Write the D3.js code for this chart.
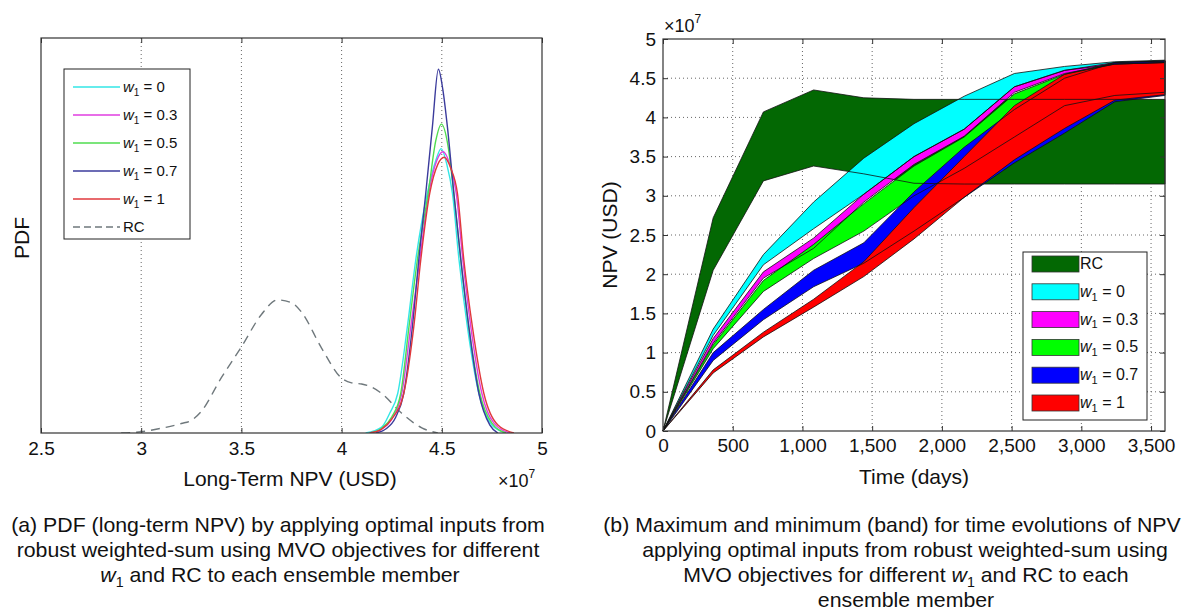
<!DOCTYPE html>
<html>
<head>
<meta charset="utf-8">
<script src="https://cdn.jsdelivr.net/npm/d3@7"></script>
<style>
    body { margin: 0; background: #fff; }
    text { font-family: "Liberation Sans", Arial, Helvetica, sans-serif; fill: #111; }
</style>
</head>
<body>
<svg id="fig" width="1182" height="615"></svg>
<script>
// ---------- data, left panel: PDF of long-term NPV (x in 1e7 USD, pdf relative to axis height) ----------
const npvTicks = [2.5, 3, 3.5, 4, 4.5, 5];
const pdfSeriesNames = ["0", "0.3", "0.5", "0.7", "1"];
const pdfRC = [[2.9, 0], [3.0, 0.003], [3.1, 0.012], [3.2, 0.024], [3.25, 0.032], [3.3, 0.055], [3.4, 0.14],
    [3.5, 0.218], [3.6, 0.30], [3.68, 0.337], [3.75, 0.33], [3.8, 0.306], [3.9, 0.215], [4.0, 0.139],
    [4.05, 0.127], [4.1, 0.124], [4.15, 0.116], [4.2, 0.10], [4.3, 0.05], [4.4, 0.013], [4.48, 0]];
const pdfW0 = [[4.12, 0], [4.2, 0.015], [4.24, 0.05], [4.28, 0.10], [4.328, 0.268], [4.37, 0.438], [4.428, 0.607],
    [4.47, 0.69], [4.497, 0.72], [4.525, 0.68], [4.553, 0.607], [4.586, 0.438], [4.628, 0.268], [4.685, 0.10],
    [4.75, 0.02], [4.82, 0]];
const pdfW03 = [[4.14, 0], [4.2, 0.01], [4.25, 0.035], [4.30, 0.10], [4.345, 0.268], [4.39, 0.438], [4.435, 0.607],
    [4.475, 0.69], [4.506, 0.712], [4.54, 0.68], [4.572, 0.607], [4.605, 0.438], [4.645, 0.268], [4.70, 0.10],
    [4.76, 0.025], [4.84, 0]];
const pdfW05 = [[4.14, 0], [4.2, 0.012], [4.25, 0.04], [4.295, 0.10], [4.336, 0.268], [4.378, 0.438], [4.432, 0.607],
    [4.47, 0.74], [4.498, 0.782], [4.53, 0.73], [4.56, 0.607], [4.595, 0.438], [4.635, 0.268], [4.69, 0.10],
    [4.75, 0.025], [4.82, 0]];
const pdfW07 = [[4.17, 0], [4.22, 0.01], [4.27, 0.04], [4.31, 0.10], [4.353, 0.268], [4.385, 0.438], [4.42, 0.607],
    [4.453, 0.775], [4.483, 0.921], [4.505, 0.87], [4.528, 0.775], [4.56, 0.607], [4.595, 0.438], [4.635, 0.268],
    [4.685, 0.10], [4.74, 0.02], [4.78, 0]];
const pdfW1 = [[4.14, 0], [4.2, 0.01], [4.25, 0.035], [4.31, 0.10], [4.36, 0.268], [4.395, 0.438], [4.44, 0.607],
    [4.48, 0.68], [4.512, 0.698], [4.545, 0.67], [4.578, 0.607], [4.61, 0.438], [4.653, 0.268], [4.71, 0.10],
    [4.78, 0.02], [4.86, 0]];

// ---------- data, right panel: min / max band of NPV over time (NPV in 1e7 USD) ----------
const dayTicks = [0, 500, 1000, 1500, 2000, 2500, 3000, 3500];
const npvBandTicks = [0, 0.5, 1, 1.5, 2, 2.5, 3, 3.5, 4, 4.5, 5];
const timeDays = [0, 360, 720, 1080, 1440, 1800, 2160, 2520, 2880, 3240, 3600];
const rcUpper  = [0, 2.72, 4.07, 4.35, 4.25, 4.23, 4.23, 4.23, 4.23, 4.23, 4.23];
const rcLower  = [0, 2.05, 3.19, 3.38, 3.28, 3.16, 3.15, 3.15, 3.15, 3.15, 3.15];
const w0Upper  = [0, 1.30, 2.25, 2.92, 3.48, 3.92, 4.27, 4.56, 4.65, 4.71, 4.73];
const w0Lower  = [0, 1.22, 2.12, 2.58, 3.02, 3.50, 3.85, 4.39, 4.60, 4.68, 4.70];
const w03Upper = [0, 1.18, 2.03, 2.46, 3.02, 3.50, 3.85, 4.39, 4.60, 4.70, 4.72];
const w03Lower = [0, 1.12, 1.95, 2.33, 2.92, 3.40, 3.76, 4.32, 4.56, 4.68, 4.70];
const w05Upper = [0, 1.10, 1.92, 2.38, 2.90, 3.38, 3.75, 4.30, 4.55, 4.70, 4.72];
const w05Lower = [0, 1.05, 1.78, 2.20, 2.55, 3.00, 3.35, 3.75, 4.15, 4.28, 4.32];
const w07Upper = [0, 1.00, 1.55, 2.05, 2.40, 3.05, 3.62, 4.10, 4.50, 4.70, 4.72];
const w07Lower = [0, 0.90, 1.42, 1.84, 2.14, 2.55, 2.98, 3.42, 3.80, 4.20, 4.28];
const w1Upper  = [0, 0.78, 1.26, 1.68, 2.16, 2.85, 3.50, 4.15, 4.55, 4.68, 4.70];
const w1Lower  = [0, 0.74, 1.20, 1.58, 1.97, 2.45, 2.98, 3.46, 3.86, 4.22, 4.29];

const lineColors = ["#33e6e6", "#e03ee0", "#4fdc4f", "#3b3b9c", "#e0383c"];
const bandColors = ["#036803", "#00ffff", "#ff00ff", "#00ff00", "#0000ff", "#ff0000"];

const svg = d3.select("#fig");
svg.append("rect").attr("width", 1182).attr("height", 615).attr("fill", "#fff");

const frameColor = "#333";
const gridColor = "#666";
const tickSize = 19;
const labelSize = 21;

// helper: "w" italic with subscript 1 followed by a tail
function addW1(textSel, tail, subSize) {
    textSel.append("tspan").attr("font-style", "italic").text("w");
    textSel.append("tspan").attr("font-size", subSize).attr("dy", subSize * 0.35).text("1");
    textSel.append("tspan").attr("dy", -subSize * 0.35).text(tail);
}

function styleAxis(g, size) {
    g.attr("font-family", "Liberation Sans, Arial, sans-serif").attr("font-size", size);
    g.select(".domain").remove();
    g.selectAll(".tick line").attr("stroke", frameColor);
    g.selectAll(".tick text").attr("fill", "#111");
}

// ==================== LEFT PANEL ====================
const xL = d3.scaleLinear().domain([2.5, 5]).range([41, 542]);
const yL = d3.scaleLinear().domain([0, 1]).range([433, 38]);

const left = svg.append("g");
left.append("clipPath").attr("id", "clipL").append("rect")
    .attr("x", xL(2.5)).attr("y", yL(1)).attr("width", xL(5) - xL(2.5)).attr("height", yL(0) - yL(1));

// vertical dotted grid
left.selectAll("line.grid")
    .data(npvTicks.slice(1, -1))
    .join("line")
    .attr("class", "grid")
    .attr("x1", d => xL(d)).attr("x2", d => xL(d))
    .attr("y1", yL(1)).attr("y2", yL(0))
    .attr("stroke", gridColor).attr("stroke-width", 1).attr("stroke-dasharray", "1,3");

const pdfLine = d3.line()
    .x(d => xL(d[0]))
    .y(d => yL(d[1]))
    .curve(d3.curveMonotoneX);

const curves = left.append("g").attr("clip-path", "url(#clipL)");
curves.append("path").datum(pdfRC)
    .attr("d", pdfLine).attr("fill", "none")
    .attr("stroke", "#6f787c").attr("stroke-width", 1.4).attr("stroke-dasharray", "9,6");
const pdfSeries = [pdfW0, pdfW03, pdfW05, pdfW07, pdfW1];
pdfSeries.forEach((s, i) => {
    curves.append("path").datum(s)
        .attr("d", pdfLine).attr("fill", "none")
        .attr("stroke", lineColors[i]).attr("stroke-width", 1.4);
});

// axes, ticks pointing inward
left.append("g")
    .attr("transform", `translate(0,${yL(0)})`)
    .call(d3.axisBottom(xL).tickValues(npvTicks).tickSizeInner(-5).tickSizeOuter(0).tickPadding(9)
        .tickFormat(d => String(d)))
    .call(g => styleAxis(g, tickSize));
left.append("g")
    .attr("transform", `translate(0,${yL(1)})`)
    .call(d3.axisTop(xL).tickValues(npvTicks).tickSizeInner(-5).tickSizeOuter(0).tickFormat(""))
    .call(g => styleAxis(g, tickSize));

left.append("rect")
    .attr("x", xL(2.5)).attr("y", yL(1))
    .attr("width", xL(5) - xL(2.5)).attr("height", yL(0) - yL(1))
    .attr("fill", "none").attr("stroke", frameColor).attr("stroke-width", 1.2);

left.append("text")
    .attr("x", 290).attr("y", 486)
    .attr("text-anchor", "middle").attr("font-size", labelSize)
    .text("Long-Term NPV (USD)");
left.append("text")
    .attr("transform", `translate(29,238) rotate(-90)`)
    .attr("text-anchor", "middle").attr("font-size", labelSize)
    .text("PDF");
const expL = left.append("text").attr("x", 498).attr("y", 487).attr("font-size", 18);
expL.append("tspan").text("\u00d710");
expL.append("tspan").attr("font-size", 12).attr("dy", -9).text("7");

// legend
const legL = left.append("g");
legL.append("rect").attr("x", 64).attr("y", 69).attr("width", 126).attr("height", 170)
    .attr("fill", "#fff").attr("stroke", "#222").attr("stroke-width", 1);
const legLItems = pdfSeriesNames.map((n, i) => ({label: n, color: lineColors[i], dash: null}))
    .concat([{label: "RC", color: "#6f787c", dash: "7,4"}]);
legLItems.forEach((it, i) => {
    const y = 87 + i * 28;
    legL.append("line").attr("x1", 73).attr("x2", 120).attr("y1", y).attr("y2", y)
        .attr("stroke", it.color).attr("stroke-width", 1.4)
        .attr("stroke-dasharray", it.dash);
    const t = legL.append("text").attr("x", 123).attr("y", y + 5).attr("font-size", 15);
    if (it.label === "RC") t.text("RC");
    else addW1(t, " = " + it.label, 10);
});

// ==================== RIGHT PANEL ====================
const xR = d3.scaleLinear().domain([0, 3600]).range([663, 1165]);
const yR = d3.scaleLinear().domain([0, 5]).range([431, 39]);

const right = svg.append("g");

// grid
right.selectAll("line.gx")
    .data(dayTicks.slice(1))
    .join("line")
    .attr("class", "gx")
    .attr("x1", d => xR(d)).attr("x2", d => xR(d))
    .attr("y1", yR(5)).attr("y2", yR(0))
    .attr("stroke", gridColor).attr("stroke-dasharray", "1,3");
right.selectAll("line.gy")
    .data(npvBandTicks.slice(1, -1))
    .join("line")
    .attr("class", "gy")
    .attr("x1", xR(0)).attr("x2", xR(3600))
    .attr("y1", d => yR(d)).attr("y2", d => yR(d))
    .attr("stroke", gridColor).attr("stroke-dasharray", "1,3");

const bands = [
    {name: "RC", up: rcUpper, lo: rcLower},
    {name: "0", up: w0Upper, lo: w0Lower},
    {name: "0.3", up: w03Upper, lo: w03Lower},
    {name: "0.5", up: w05Upper, lo: w05Lower},
    {name: "0.7", up: w07Upper, lo: w07Lower},
    {name: "1", up: w1Upper, lo: w1Lower}
];
bands.forEach((b, i) => {
    b.rows = timeDays.map((t, k) => ({t: t, up: b.up[k], lo: b.lo[k]}));
    b.color = bandColors[i];
});

const bandArea = d3.area()
    .x(d => xR(d.t))
    .y0(d => yR(d.lo))
    .y1(d => yR(d.up));

right.append("g").selectAll("path")
    .data(bands)
    .join("path")
    .attr("d", d => bandArea(d.rows))
    .attr("fill", d => d.color)
    .attr("stroke", "none");

// band outlines drawn over all fills
right.append("g").selectAll("path")
    .data(bands)
    .join("path")
    .attr("d", d => bandArea(d.rows))
    .attr("fill", "none")
    .attr("stroke", "#111")
    .attr("stroke-width", 0.8)
    .attr("stroke-linejoin", "round");

right.append("g")
    .attr("transform", `translate(0,${yR(0)})`)
    .call(d3.axisBottom(xR).tickValues(dayTicks).tickSizeInner(-5).tickSizeOuter(0).tickPadding(8)
        .tickFormat(d3.format(",")))
    .call(g => styleAxis(g, tickSize));
right.append("g")
    .attr("transform", `translate(0,${yR(5)})`)
    .call(d3.axisTop(xR).tickValues(dayTicks).tickSizeInner(-5).tickSizeOuter(0).tickFormat(""))
    .call(g => styleAxis(g, tickSize));
right.append("g")
    .attr("transform", `translate(${xR(0)},0)`)
    .call(d3.axisLeft(yR).tickValues(npvBandTicks).tickSizeInner(-5).tickSizeOuter(0).tickPadding(7)
        .tickFormat(d => String(d)))
    .call(g => styleAxis(g, tickSize));
right.append("g")
    .attr("transform", `translate(${xR(3600)},0)`)
    .call(d3.axisRight(yR).tickValues(npvBandTicks).tickSizeInner(-5).tickSizeOuter(0).tickFormat(""))
    .call(g => styleAxis(g, tickSize));

right.append("rect")
    .attr("x", xR(0)).attr("y", yR(5))
    .attr("width", xR(3600) - xR(0)).attr("height", yR(0) - yR(5))
    .attr("fill", "none").attr("stroke", frameColor).attr("stroke-width", 1.2);

right.append("text")
    .attr("x", 914).attr("y", 484)
    .attr("text-anchor", "middle").attr("font-size", labelSize)
    .text("Time (days)");
right.append("text")
    .attr("transform", `translate(617,235) rotate(-90)`)
    .attr("text-anchor", "middle").attr("font-size", labelSize)
    .text("NPV (USD)");
const expR = right.append("text").attr("x", 664).attr("y", 32).attr("font-size", 18);
expR.append("tspan").text("\u00d710");
expR.append("tspan").attr("font-size", 12).attr("dy", -9).text("7");

// legend
const legR = right.append("g");
legR.append("rect").attr("x", 1023).attr("y", 252).attr("width", 124).attr("height", 168)
    .attr("fill", "#fff").attr("stroke", "#222").attr("stroke-width", 1);
bands.forEach((b, i) => {
    const y = 264 + i * 27.8;
    legR.append("rect").attr("x", 1032).attr("y", y - 8).attr("width", 47).attr("height", 16)
        .attr("fill", b.color).attr("stroke", "#333").attr("stroke-width", 0.8);
    const t = legR.append("text").attr("x", 1080).attr("y", y + 5).attr("font-size", 16);
    if (b.name === "RC") t.text("RC");
    else addW1(t, " = " + b.name, 11);
});

// ==================== CAPTIONS ====================
const capSize = 21;
function captionLine(cx, y, parts, scaleX) {
    const g = svg.append("g").attr("transform", `translate(${cx},${y}) scale(${scaleX},1)`);
    const t = g.append("text").attr("text-anchor", "middle").attr("font-size", capSize);
    let shift = 0;  // pending baseline correction after a subscript
    parts.forEach(p => {
        if (p === "W1") {
            t.append("tspan").attr("font-style", "italic").attr("dy", shift).text("w");
            t.append("tspan").attr("font-size", 14).attr("dy", 5).text("1");
            shift = -5;
        } else {
            t.append("tspan").attr("dy", shift).text(p);
            shift = 0;
        }
    });
    return t;
}
const capA = ["(a) PDF (long-term NPV) by applying optimal inputs from",
    "robust weighted-sum using MVO objectives for different"];
const capB = ["(b) Maximum and minimum (band) for time evolutions of NPV",
    "applying optimal inputs from robust weighted-sum using"];

// measure natural width of first line to get a condensed horizontal scale
const probe = svg.append("text").attr("font-size", capSize).text(capA[0]);
const natural = probe.node().getComputedTextLength();
probe.remove();
const sx = 534 / natural;

captionLine(278, 532, [capA[0]], sx);
captionLine(278, 557, [capA[1]], sx);
captionLine(280, 582, ["W1", " and RC to each ensemble member"], sx);
captionLine(892, 532, [capB[0]], sx);
captionLine(905, 557, [capB[1]], sx);
captionLine(906, 582, ["MVO objectives for different ", "W1", " and RC to each"], sx);
captionLine(906, 607, ["ensemble member"], sx);
</script>
</body>
</html>
